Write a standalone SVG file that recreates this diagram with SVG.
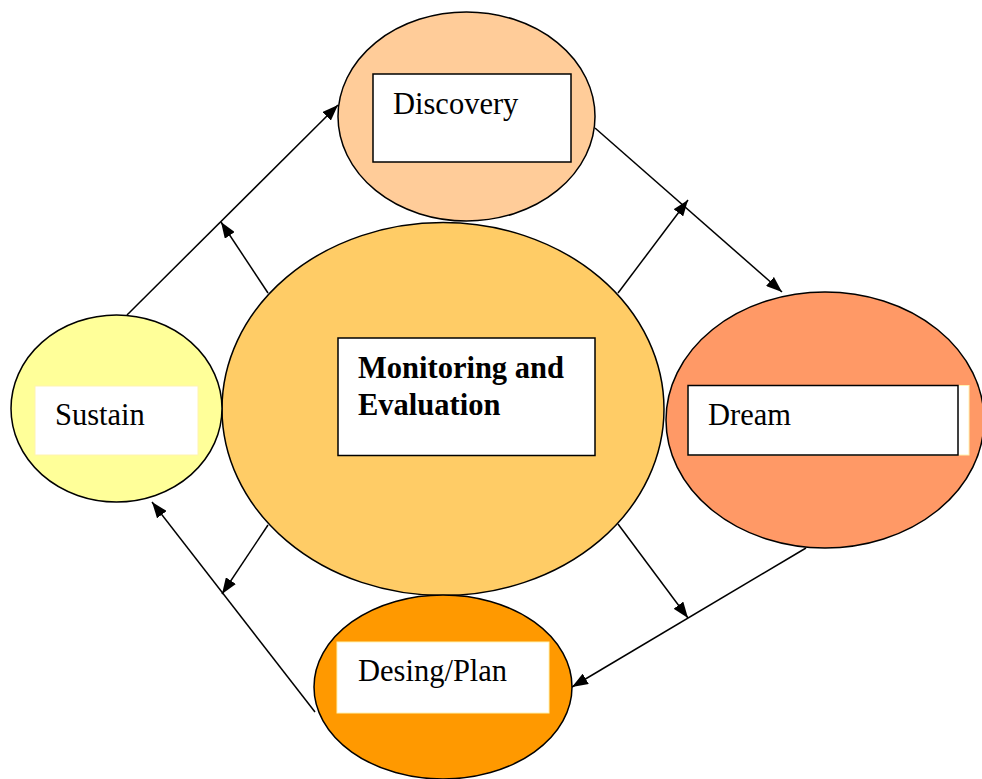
<svg xmlns="http://www.w3.org/2000/svg" width="982" height="779" viewBox="0 0 982 779">
  <defs>
    <marker id="arr" viewBox="0 0 16 12" refX="16" refY="6" markerWidth="16" markerHeight="12" markerUnits="userSpaceOnUse" orient="auto">
      <path d="M0,0 L16,6 L0,12 Z" fill="#000"/>
    </marker>
  </defs>
  <style>
    .node { stroke: #000; stroke-width: 1.5; }
    .box { fill: #fff; stroke: #000; stroke-width: 1.5; }
    .pad { fill: #fff; stroke: #FFF3B0; stroke-width: 1; }
    .lbl { font-family: "Liberation Serif", "Times New Roman", serif; font-size: 30.5px; fill: #000; }
    .bold { font-weight: bold; }
    .conn line { stroke: #000; stroke-width: 1.5; marker-end: url(#arr); }
  </style>
  <rect width="982" height="779" fill="#fff"/>

  <g id="discovery">
    <ellipse class="node" cx="466.5" cy="116.5" rx="128.5" ry="104.5" fill="#FFCC99"/>
    <rect class="box" x="373" y="74" width="198" height="88"/>
    <text class="lbl" x="393" y="114">Discovery</text>
  </g>

  <g id="monitoring">
    <ellipse class="node" cx="443" cy="409" rx="221" ry="186.5" fill="#FFCC66"/>
    <rect class="box" x="338" y="338" width="257" height="117.5"/>
    <text class="lbl bold" x="358" y="378">Monitoring and</text>
    <text class="lbl bold" x="358" y="415">Evaluation</text>
  </g>

  <g id="sustain">
    <ellipse class="node" cx="116.5" cy="408.5" rx="105.5" ry="93.5" fill="#FFFF99"/>
    <rect class="pad" x="35" y="386" width="163" height="69"/>
    <text class="lbl" x="55" y="425">Sustain</text>
  </g>

  <g id="dream">
    <ellipse class="node" cx="825" cy="420" rx="159" ry="128" fill="#FF9966"/>
    <rect class="pad" x="688" y="385.5" width="281" height="69.5"/>
    <rect class="box" x="688" y="385.5" width="270" height="69.5"/>
    <text class="lbl" x="708" y="425">Dream</text>
  </g>

  <g id="design">
    <ellipse class="node" cx="443" cy="687" rx="129" ry="92" fill="#FF9900"/>
    <rect class="pad" x="337" y="642" width="212" height="71"/>
    <text class="lbl" x="358" y="681">Desing/Plan</text>
  </g>

  <g id="connectors" class="conn">
    <line x1="127" y1="315" x2="338" y2="105"/>
    <line x1="268" y1="293" x2="221" y2="222"/>
    <line x1="595" y1="128" x2="782" y2="292"/>
    <line x1="618" y1="293" x2="688" y2="200"/>
    <line x1="806" y1="548" x2="572" y2="687"/>
    <line x1="618" y1="524" x2="688" y2="618"/>
    <line x1="315" y1="712" x2="152" y2="502"/>
    <line x1="268" y1="525" x2="222" y2="594"/>
  </g>
</svg>
